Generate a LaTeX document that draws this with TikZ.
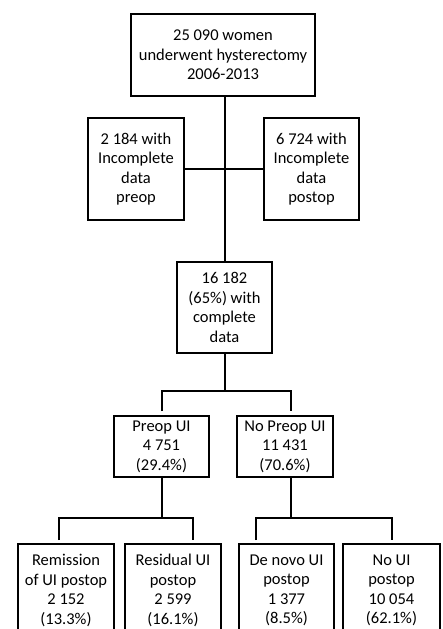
\documentclass[tikz,border=0pt]{standalone}
\usepackage{fontspec}
\setmainfont{Carlito}
\begin{document}
\begin{tikzpicture}[x=1pt,y=-1pt,
  box/.style={draw=black,line width=1.6pt,fill=white,inner sep=0pt,align=center,
    font=\fontsize{16.5}{19.5}\selectfont},
  conn/.style={draw=black,line width=1.8pt}]
\useasboundingbox (0,0) rectangle (443,629);
\clip (0,0) rectangle (443,629);
\fill[white] (0,0) rectangle (443,629);
% nodes
\node[box,minimum width=184pt,minimum height=82pt] (top) at (223,55) {25 090 women\\underwent hysterectomy\\2006-2013};
\node[box,minimum width=96pt,minimum height=102pt] (lft) at (136,169) {2 184 with\\Incomplete\\data\\preop};
\node[box,minimum width=95pt,minimum height=102pt] (rgt) at (311.5,169) {6 724 with\\Incomplete\\data\\postop};
\node[box,minimum width=95pt,minimum height=91pt] (cmp) at (224.5,307.5) {16 182\\(65\%) with\\complete\\data};
\node[box,minimum width=95pt,minimum height=61pt] (pre) at (161.5,446.5) {Preop UI\\4 751\\(29.4\%)};
\node[box,minimum width=96pt,minimum height=61pt] (npre) at (285,446.5) {No Preop UI\\11 431\\(70.6\%)};
\node[box,minimum width=96pt,minimum height=93pt] (b1) at (66,590.5) {Remission\\of UI postop\\2 152\\(13.3\%)};
\node[box,minimum width=96pt,minimum height=93pt] (b2) at (173,590.5) {Residual UI\\postop\\2 599\\(16.1\%)};
\node[box,minimum width=95pt,minimum height=93pt] (b3) at (286.5,590.5) {De novo UI\\postop\\1 377\\(8.5\%)};
\node[box,minimum width=97pt,minimum height=93pt] (b4) at (391.5,590.5) {No UI\\postop\\10 054\\(62.1\%)};
% junction coordinates
\coordinate (j1) at (225,391);
\coordinate (j1l) at (162,391);
\coordinate (j1r) at (291,391);
\coordinate (e1l) at (162,411);
\coordinate (e1r) at (291,411);
\coordinate (j2) at (162,518);
\coordinate (j2l) at (59,518);
\coordinate (j2r) at (193,518);
\coordinate (e2l) at (59,540);
\coordinate (e2r) at (193,540);
\coordinate (j3) at (291,518);
\coordinate (j3l) at (256,518);
\coordinate (j3r) at (392,518);
\coordinate (e3l) at (256,540);
\coordinate (e3r) at (392,540);
% connectors
\draw[conn] (top.south -| 225,0) -- (cmp.north -| 225,0);
\draw[conn] (lft.east) -- (rgt.west);
\draw[conn] (cmp.south -| j1) -- (j1);
\draw[conn] (e1l) -- (j1l) -- (j1r) -- (e1r);
\draw[conn] (pre.south -| j2) -- (j2);
\draw[conn] (e2l) -- (j2l) -- (j2r) -- (e2r);
\draw[conn] (npre.south -| j3) -- (j3);
\draw[conn] (e3l) -- (j3l) -- (j3r) -- (e3r);
\end{tikzpicture}
\end{document}
